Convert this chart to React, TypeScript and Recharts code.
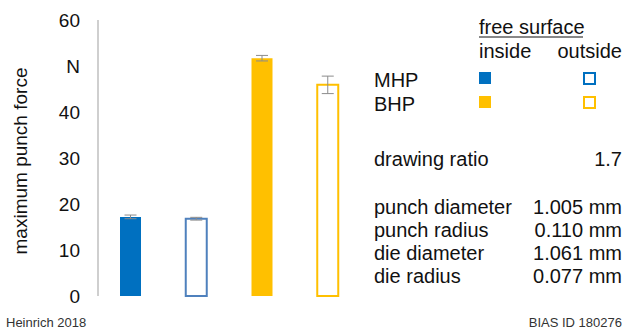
import React from 'react';
import { BarChart, Bar, XAxis, YAxis, Cell, ErrorBar } from 'recharts';

// data
const categories = ['MHP inside', 'MHP outside', 'BHP inside', 'BHP outside'];
const punchForce = [17.2, 16.8, 51.7, 45.9];
const forceError = [0.4, 0.3, 0.6, 1.9];
const yTicks = [0, 10, 20, 30, 40, 50, 60];

const fills = ['#0070C0', '#ffffff', '#FFC000', '#ffffff'];
const strokes = ['#0070C0', '#4F81BD', '#FFC000', '#FFC000'];

const params = [
  { label: 'punch diameter', value: '1.005 mm' },
  { label: 'punch radius', value: '0.110 mm' },
  { label: 'die diameter', value: '1.061 mm' },
  { label: 'die radius', value: '0.077 mm' },
];

const chartData = categories.map((name, i) => ({
  name,
  force: punchForce[i],
  err: forceError[i],
}));

const FONT = '"Liberation Sans", Arial, sans-serif';
const GRID = '#BFBFBF';

const App: React.FC = () => {
  return (
    <div style={{ position: 'absolute', left: 0, top: 0, width: 625, height: 329, background: '#fff', fontFamily: FONT }}>
      <BarChart
        width={625}
        height={329}
        data={chartData}
        margin={{ top: 20, right: 264, left: 16, bottom: 33 }}
      >
        <XAxis dataKey="name" tick={false} tickLine={false} axisLine={{ stroke: GRID, strokeWidth: 1.5 }} height={0} />
        <XAxis xAxisId="top" orientation="top" dataKey="name" tick={false} tickLine={false} axisLine={{ stroke: GRID, strokeWidth: 1.5 }} height={0} />
        <YAxis
          domain={[0, 60]}
          ticks={yTicks}
          width={82}
          tickLine={false}
          tickSize={6}
          tickMargin={12}
          axisLine={{ stroke: GRID, strokeWidth: 1.5 }}
          tick={{ fill: '#111', fontSize: 19, fontFamily: FONT }}
          tickFormatter={(v: number) => (v === 50 ? 'N' : String(v))}
        />
        <YAxis yAxisId="right" orientation="right" domain={[0, 60]} tick={false} tickLine={false} axisLine={{ stroke: GRID, strokeWidth: 1.5 }} width={0} />
        <Bar dataKey="force" barSize={21} isAnimationActive={false}>
          {chartData.map((d, i) => (
            <Cell key={d.name} fill={fills[i]} stroke={strokes[i]} strokeWidth={i % 2 === 1 ? 2 : 0} />
          ))}
          <ErrorBar dataKey="err" width={6} stroke="#8C8C8C" strokeWidth={1} />
        </Bar>
      </BarChart>

      <svg width={625} height={329} style={{ position: 'absolute', left: 0, top: 0, pointerEvents: 'none' }} fontFamily={FONT}>
        <text x={27} y={161} transform="rotate(-90 27 161)" textAnchor="middle" fontSize={19} fill="#111">
          maximum punch force
        </text>

        {/* legend block */}
        <text x={479} y={34} fontSize={20} fill="#111">free surface</text>
        <line x1={479} x2={583} y1={37} y2={37} stroke="#111" strokeWidth={1} />
        <text x={479} y={58} fontSize={20} fill="#111">inside</text>
        <text x={622} y={58} fontSize={20} fill="#111" textAnchor="end">outside</text>
        <text x={374} y={87} fontSize={20} fill="#111">MHP</text>
        <text x={374} y={111} fontSize={20} fill="#111">BHP</text>
        <rect x={479} y={72} width={12} height={12} fill="#0070C0" />
        <rect x={584} y={73} width={11} height={11} fill="#fff" stroke="#0070C0" strokeWidth={2} />
        <rect x={479} y={96} width={12} height={12} fill="#FFC000" />
        <rect x={584} y={97} width={11} height={11} fill="#fff" stroke="#FFC000" strokeWidth={2} />

        <text x={374} y={166} fontSize={20} fill="#111">drawing ratio</text>
        <text x={622} y={166} fontSize={20} fill="#111" textAnchor="end">1.7</text>

        {params.map((p, i) => (
          <g key={p.label}>
            <text x={374} y={214 + i * 23} fontSize={20} fill="#111">{p.label}</text>
            <text x={622} y={214 + i * 23} fontSize={20} fill="#111" textAnchor="end">{p.value}</text>
          </g>
        ))}

        <text x={6} y={327} fontSize={13} fill="#333">Heinrich 2018</text>
        <text x={622} y={327} fontSize={13} fill="#333" textAnchor="end">BIAS ID 180276</text>
      </svg>
    </div>
  );
};

export default App;
